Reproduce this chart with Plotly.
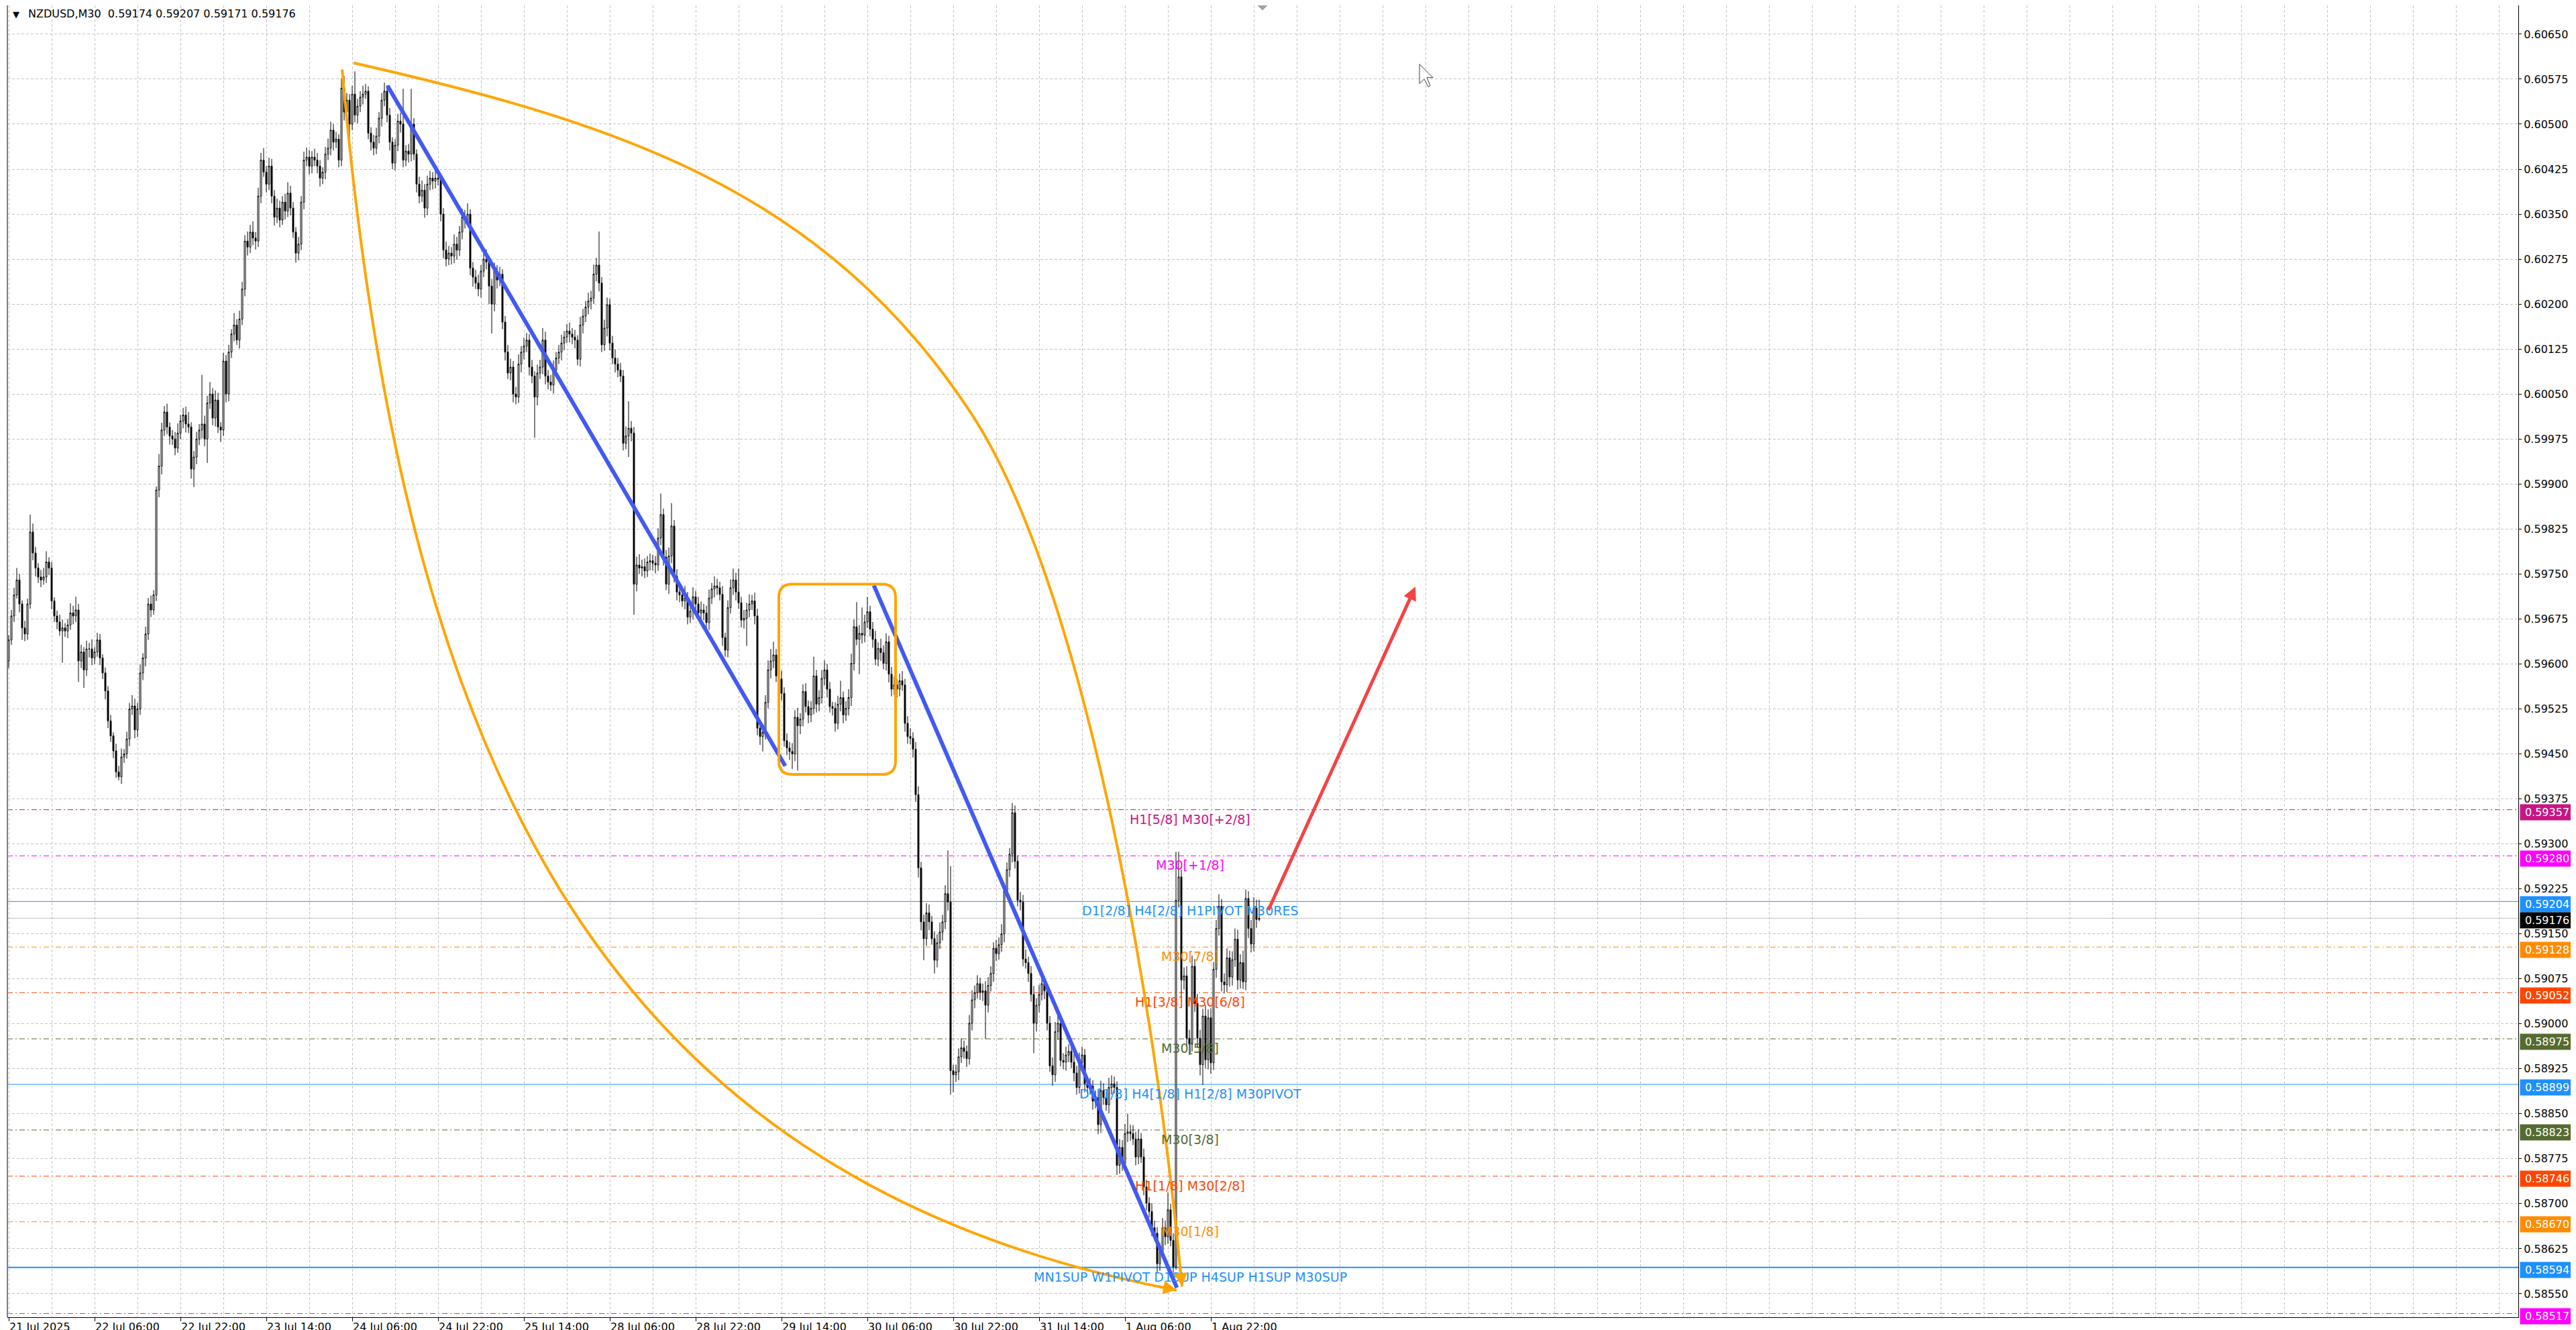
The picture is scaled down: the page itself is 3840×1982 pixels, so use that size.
import plotly.graph_objects as go

# NZDUSD M30, one value per bar, in 1e-5 units (59640 -> 0.59640)
first_open = 59605
closes = [
    59640, 59680, 59715, 59740, 59700, 59660, 59650, 59700, 59820, 59785,
    59760, 59745, 59740, 59745, 59770, 59760, 59705, 59680, 59670, 59655,
    59660, 59655, 59665, 59685, 59680, 59690, 59605, 59620, 59590, 59625,
    59625, 59610, 59620, 59640, 59610, 59585, 59555, 59505, 59480, 59455,
    59420, 59412, 59445, 59450, 59475, 59525, 59530, 59490, 59525, 59585,
    59610, 59650, 59700, 59690, 59715, 59890, 59930, 59990, 60020, 59995,
    59980, 59975, 59960, 59985, 60005, 60015, 60000, 59995, 59925, 59945,
    59975, 59990, 60000, 59975, 60035, 60050, 60010, 60040, 59995, 59990,
    60105, 60050, 60120, 60150, 60165, 60140, 60175, 60225, 60305, 60295,
    60320, 60310, 60305, 60380, 60440, 60420, 60400, 60430, 60380, 60345,
    60360, 60340, 60370, 60355, 60385, 60360, 60320, 60285, 60300, 60370,
    60440, 60445, 60430, 60445, 60440, 60430, 60410, 60420, 60450, 60460,
    60490, 60470, 60475, 60440, 60560, 60520, 60540, 60500, 60550, 60515,
    60530, 60545, 60550, 60555, 60485, 60470, 60460, 60480, 60510, 60540,
    60555, 60515, 60470, 60435, 60465, 60505, 60500, 60440, 60455, 60450,
    60500, 60450, 60400, 60380, 60390, 60360, 60400, 60410, 60405, 60410,
    60408, 60350, 60290, 60275, 60285, 60280, 60300, 60290, 60320, 60345,
    60340, 60350, 60260, 60245, 60235, 60225, 60255, 60275, 60270, 60230,
    60200, 60255, 60240, 60250, 60170, 60120, 60085, 60095, 60050, 60045,
    60100, 60120, 60130, 60140, 60095, 60080, 60045, 60085, 60095, 60140,
    60080, 60070, 60065, 60090, 60110, 60120, 60135, 60145, 60155, 60150,
    60145, 60140, 60108, 60165, 60180, 60195, 60205, 60210, 60250, 60265,
    60235, 60132, 60160, 60199, 60135, 60110, 60100, 60090, 60080, 59968,
    59980, 59993, 59985, 59733, 59765, 59760, 59762, 59755, 59770, 59772,
    59768, 59765, 59810, 59849, 59778, 59733, 59780, 59830, 59746, 59720,
    59715, 59705, 59710, 59678, 59688, 59712, 59700, 59685, 59690, 59685,
    59669, 59710, 59725, 59730, 59727, 59716, 59644, 59623, 59694, 59727,
    59740, 59720, 59702, 59673, 59676, 59690, 59700, 59705, 59680, 59493,
    59479, 59486, 59536, 59590, 59605, 59615, 59580, 59575, 59551, 59472,
    59460, 59454, 59450, 59511, 59497, 59508, 59554, 59529, 59515, 59526,
    59580, 59533, 59544, 59576, 59590, 59558, 59529, 59526, 59501, 59533,
    59544, 59515, 59526, 59544, 59601, 59662, 59641, 59651, 59648, 59670,
    59687, 59658, 59641, 59608, 59626, 59619, 59601, 59637, 59583, 59558,
    59565, 59558, 59572, 59565, 59501, 59479, 59476, 59458, 59382, 59260,
    59170, 59142, 59185, 59170, 59142, 59106, 59135, 59153, 59170, 59217,
    59203, 58922, 58915, 58920, 58945, 58960, 58954, 58942, 59001, 59040,
    59052, 59067, 59052, 59055, 59031, 59064, 59084, 59126, 59117, 59132,
    59150, 59221, 59257, 59283, 59352, 59271, 59206, 59203, 59108, 59102,
    59084, 59049, 59001, 59031, 59049, 59067, 59055, 59001, 58930, 58915,
    58987, 59001, 58939, 58936, 58948, 58954, 58936, 58918, 58894, 58936,
    58948, 58900, 58894, 58896, 58871, 58877, 58832, 58889, 58877, 58865,
    58894, 58900, 58894, 58764, 58794, 58767, 58817, 58820, 58817, 58808,
    58778, 58808, 58778, 58728, 58701, 58687, 58660, 58651, 58600, 58620,
    58660, 58645, 58690, 58639, 58595, 59206, 59245, 59073, 59080, 58976,
    58966, 59096, 59034, 58976, 58932, 59013, 58940, 59010, 58935, 59091,
    59159, 59196, 59070, 59065, 59110, 59078, 59107, 59141, 59073, 59102,
    59070, 59209, 59159, 59133, 59193, 59174, 59176,
]
# wick lengths above / below the body, same units
upper_wick = [
    8, 10, 12, 20, 10, 6, 12, 9, 29, 14,
    10, 8, 12, 15, 18, 8, 10, 6, 9, 12,
    14, 8, 10, 16, 12, 22, 10, 12, 8, 14,
    10, 16, 8, 12, 10, 6, 9, 8, 10, 6,
    12, 10, 14, 8, 12, 10, 18, 12, 10, 14,
    8, 12, 10, 14, 8, 6, 20, 12, 10, 14,
    8, 10, 12, 16, 10, 12, 14, 20, 8, 10,
    12, 10, 82, 14, 12, 20, 10, 16, 12, 8,
    14, 10, 12, 8, 20, 10, 14, 12, 10, 16,
    12, 18, 10, 14, 12, 20, 10, 14, 12, 10,
    16, 12, 10, 14, 18, 12, 10, 8, 12, 10,
    14, 16, 12, 10, 14, 12, 10, 8, 12, 16,
    14, 10, 12, 8, 16, 20, 12, 10, 14, 38,
    12, 10, 14, 12, 8, 10, 12, 14, 10, 12,
    14, 10, 12, 8, 10, 12, 14, 59, 10, 12,
    59, 10, 8, 12, 16, 10, 14, 12, 10, 16,
    12, 8, 10, 14, 12, 10, 16, 12, 10, 14,
    12, 18, 8, 10, 12, 14, 10, 12, 16, 10,
    12, 14, 10, 12, 8, 10, 12, 14, 10, 12,
    16, 10, 14, 12, 10, 12, 8, 14, 12, 20,
    14, 10, 12, 16, 10, 12, 14, 10, 12, 14,
    10, 12, 8, 14, 12, 10, 14, 12, 16, 12,
    56, 10, 14, 12, 10, 12, 14, 10, 12, 10,
    16, 45, 12, 10, 14, 18, 12, 14, 10, 12,
    10, 12, 16, 35, 10, 12, 14, 38, 10, 12,
    12, 14, 20, 10, 12, 16, 10, 12, 14, 10,
    12, 14, 10, 16, 12, 10, 14, 8, 12, 14,
    19, 12, 39, 10, 14, 12, 16, 10, 14, 12,
    10, 14, 12, 16, 20, 22, 10, 12, 14, 10,
    12, 10, 14, 12, 16, 10, 12, 14, 10, 12,
    32, 10, 12, 14, 16, 10, 12, 8, 10, 14,
    28, 10, 12, 14, 16, 12, 41, 14, 43, 12,
    25, 10, 12, 14, 10, 16, 12, 14, 10, 12,
    14, 10, 12, 16, 10, 12, 14, 10, 12, 14,
    10, 12, 16, 14, 10, 12, 14, 16, 12, 14,
    72, 60, 10, 12, 14, 16, 12, 10, 14, 16,
    12, 14, 10, 12, 16, 14, 12, 10, 14, 12,
    16, 14, 12, 10, 16, 12, 10, 14, 12, 16,
    10, 12, 14, 12, 16, 14, 12, 10, 12, 14,
    16, 14, 10, 12, 14, 12, 10, 14, 12, 16,
    14, 10, 12, 14, 10, 12, 14, 16, 12, 10,
    16, 14, 12, 10, 14, 12, 16, 30, 12, 14,
    12, 16, 10, 14, 12, 10, 14, 12, 10, 14,
    16, 12, 29, 10, 12, 81, 42, 12, 14, 16,
    14, 18, 12, 16, 14, 12, 18, 14, 16, 12,
    14, 20, 12, 14, 16, 12, 14, 18, 16, 14,
    20, 15, 12, 14, 18, 14, 31,
]
lower_wick = [
    12, 8, 10, 6, 14, 20, 12, 10, 8, 12,
    14, 10, 12, 8, 10, 12, 14, 10, 12, 8,
    53, 10, 12, 8, 14, 10, 35, 12, 30, 10,
    14, 12, 10, 8, 12, 10, 14, 12, 10, 12,
    10, 6, 12, 10, 8, 12, 10, 14, 12, 10,
    12, 14, 10, 12, 8, 10, 12, 14, 10, 12,
    14, 10, 12, 8, 10, 12, 14, 10, 16, 30,
    12, 10, 14, 12, 40, 10, 12, 14, 10, 20,
    10, 14, 12, 10, 12, 8, 14, 10, 12, 14,
    10, 12, 14, 10, 12, 8, 14, 10, 12, 14,
    10, 12, 8, 14, 10, 12, 10, 16, 12, 10,
    12, 10, 14, 12, 10, 12, 14, 10, 12, 10,
    12, 14, 10, 12, 10, 14, 12, 47, 10, 12,
    14, 10, 12, 8, 10, 14, 12, 10, 12, 14,
    10, 12, 14, 10, 12, 10, 14, 12, 10, 14,
    12, 10, 14, 12, 10, 16, 12, 10, 14, 12,
    10, 12, 14, 12, 10, 14, 12, 16, 10, 12,
    14, 10, 12, 16, 10, 12, 14, 10, 12, 30,
    49, 12, 14, 10, 12, 14, 10, 12, 14, 12,
    10, 14, 12, 10, 14, 12, 68, 14, 10, 12,
    14, 12, 10, 14, 12, 10, 14, 12, 10, 14,
    12, 14, 10, 12, 14, 10, 12, 14, 10, 12,
    14, 12, 10, 14, 12, 10, 14, 12, 10, 12,
    10, 35, 14, 51, 12, 10, 14, 12, 10, 14,
    12, 14, 10, 12, 14, 10, 16, 12, 10, 14,
    12, 10, 14, 12, 10, 14, 12, 10, 14, 12,
    14, 12, 10, 14, 12, 10, 14, 11, 12, 10,
    12, 14, 10, 12, 14, 46, 12, 10, 14, 12,
    14, 25, 12, 10, 14, 12, 10, 14, 12, 10,
    12, 14, 25, 12, 75, 14, 12, 10, 14, 12,
    10, 14, 12, 10, 12, 14, 10, 12, 14, 10,
    12, 14, 10, 12, 14, 12, 10, 58, 14, 12,
    10, 12, 14, 10, 12, 14, 10, 12, 14, 12,
    10, 14, 12, 10, 14, 12, 10, 14, 12, 16,
    14, 36, 12, 14, 10, 22, 12, 10, 14, 12,
    14, 40, 29, 12, 14, 10, 12, 14, 10, 12,
    14, 10, 12, 14, 56, 12, 10, 14, 12, 10,
    12, 14, 10, 12, 14, 12, 10, 14, 12, 10,
    14, 12, 50, 14, 12, 10, 14, 12, 10, 18,
    12, 14, 10, 12, 14, 12, 10, 14, 12, 10,
    12, 14, 10, 12, 14, 12, 16, 14, 12, 10,
    14, 12, 10, 16, 14, 12, 10, 14, 12, 10,
    14, 12, 10, 14, 12, 10, 14, 12, 15, 12,
    10, 14, 12, 10, 10, 5, 12, 29, 16, 14,
    18, 12, 14, 16, 18, 34, 14, 16, 18, 12,
    14, 12, 16, 14, 12, 16, 14, 12, 16, 14,
    12, 14, 16, 14, 12, 14, 3,
]

# time axis labels (bar index -> text), one every 32 bars
tick_bars = [0, 32, 64, 96, 128, 160, 192, 224, 256, 288, 320, 352, 384, 416, 448]
tick_text = ["21 Jul 2025", "22 Jul 06:00", "22 Jul 22:00", "23 Jul 14:00",
             "24 Jul 06:00", "24 Jul 22:00", "25 Jul 14:00", "28 Jul 06:00",
             "28 Jul 22:00", "29 Jul 14:00", "30 Jul 06:00", "30 Jul 22:00",
             "31 Jul 14:00", "1 Aug 06:00", "1 Aug 22:00"]

# murrey / pivot levels drawn as horizontal lines
level_prices = [0.59357, 0.59280, 0.59204, 0.59128, 0.59052, 0.58975,
                0.58899, 0.58823, 0.58746, 0.58670, 0.58594, 0.58517]
level_colors = ["#C71585", "#FF00FF", "#1E90FF", "#FF8C00", "#FF4500", "#556B2F",
                "#1E90FF", "#556B2F", "#FF4500", "#FF8C00", "#1E90FF", "#FF00FF"]
level_text = ["H1[5/8] M30[+2/8]", "M30[+1/8]", "D1[2/8] H4[2/8] H1PIVOT M30RES",
              "M30[7/8]", "H1[3/8] M30[6/8]", "M30[5/8]",
              "D1[1/8] H4[1/8] H1[2/8] M30PIVOT", "M30[3/8]", "H1[1/8] M30[2/8]",
              "M30[1/8]", "MN1SUP W1PIVOT D1SUP H4SUP H1SUP M30SUP", ""]
level_solid = [False, False, True, False, False, False,
               True, False, False, False, True, False]
bid_price = 0.59176

# chart objects: (bar, price) anchor points
trend_lines = [((141.15, 0.60564), (289.4, 0.59430)),
               ((322.4, 0.59731), (435.35, 0.58560))]
box_corners = ((287.0, 0.59416), (330.5, 0.59733))
lower_arc = [(124.25, 0.60591), (146.25, 0.59476), (214.25, 0.58744), (435.25, 0.58556)]
upper_arc = [(128.5, 0.60602), (226.0, 0.60503), (303.5, 0.60393), (358.5, 0.60019),
             (399.75, 0.59739), (426.75, 0.59063), (437.25, 0.58562)]
red_arrow = ((469.25, 0.59188), (524.25, 0.59729))

FONT = "DejaVu Sans"
ORANGE = "#FFA500"
BLUE = "#4259F2"

bars = list(range(len(closes)))
opens = [first_open] + closes[:-1]
highs = [max(o, c) + u for o, c, u in zip(opens, closes, upper_wick)]
lows = [min(o, c) - w for o, c, w in zip(opens, closes, lower_wick)]

fig = go.Figure()
fig.add_trace(go.Candlestick(
    x=bars,
    open=[v / 1e5 for v in opens], high=[v / 1e5 for v in highs],
    low=[v / 1e5 for v in lows], close=[v / 1e5 for v in closes],
    increasing=dict(line=dict(color="black", width=1), fillcolor="white"),
    decreasing=dict(line=dict(color="black", width=1), fillcolor="black"),
    whiskerwidth=0, hoverinfo="skip", showlegend=False,
))

shapes = []
annotations = []

# horizontal levels + price boxes + labels
for price, col, txt, solid in zip(level_prices, level_colors, level_text, level_solid):
    shapes.append(dict(type="line", xref="paper", x0=0, x1=1, y0=price, y1=price,
                       layer="between",
                       line=dict(color=col, width=2 if price == 0.58594 else 1,
                                 dash="solid" if solid else "8px,4px,2px,4px")))
    annotations.append(dict(xref="paper", x=1, xanchor="left", xshift=2, y=price,
                            yref="y", yshift=-4, text="%.5f" % price, showarrow=False,
                            bgcolor=col, width=76, borderpad=2,
                            font=dict(family=FONT, size=16, color="white")))
    if txt:
        annotations.append(dict(x=440.25, y=price, xanchor="center", yanchor="top",
                                yshift=-1, text=txt, showarrow=False,
                                font=dict(family=FONT, size=19, color=col)))

shapes.append(dict(type="line", xref="paper", x0=0, x1=1, y0=bid_price, y1=bid_price,
                   layer="between", line=dict(color="#C0C0C0", width=1)))
annotations.append(dict(xref="paper", x=1, xanchor="left", xshift=2, y=bid_price,
                        yshift=-3, text="%.5f" % bid_price, showarrow=False,
                        bgcolor="black", width=76, borderpad=2,
                        font=dict(family=FONT, size=16, color="white")))

# blue trend lines
for (a, b) in trend_lines:
    shapes.append(dict(type="line", x0=a[0], y0=a[1], x1=b[0], y1=b[1],
                       line=dict(color=BLUE, width=6)))

# rounded orange box
(bx0, by0), (bx1, by1) = box_corners
rx, ry = 5.0, 0.000224
box_path = ("M {a},{t} L {b},{t} Q {x1},{t} {x1},{t2} L {x1},{b2} Q {x1},{y0} {b},{y0} "
            "L {a},{y0} Q {x0},{y0} {x0},{b2} L {x0},{t2} Q {x0},{t} {a},{t} Z").format(
    a=bx0 + rx, b=bx1 - rx, t=by1, t2=by1 - ry, b2=by0 + ry,
    x0=bx0, x1=bx1, y0=by0)
shapes.append(dict(type="path", path=box_path, line=dict(color=ORANGE, width=4)))


def bezier_path(pts):
    p = "M %s,%s" % pts[0]
    for i in range(1, len(pts), 3):
        p += " C %s,%s %s,%s %s,%s" % (pts[i] + pts[i + 1] + pts[i + 2])
    return p


shapes.append(dict(type="path", path=bezier_path(lower_arc), line=dict(color=ORANGE, width=4)))
shapes.append(dict(type="path", path=bezier_path(upper_arc), line=dict(color=ORANGE, width=4)))

# arrow heads of the two arcs
annotations.append(dict(x=lower_arc[-1][0], y=lower_arc[-1][1], ax=-30, ay=-6,
                        showarrow=True, arrowhead=2, arrowsize=1, arrowwidth=4,
                        arrowcolor=ORANGE, text=""))
annotations.append(dict(x=upper_arc[-1][0], y=upper_arc[-1][1], ax=-3, ay=-30,
                        showarrow=True, arrowhead=2, arrowsize=1, arrowwidth=4,
                        arrowcolor=ORANGE, text=""))

# red projection arrow
annotations.append(dict(x=red_arrow[1][0], y=red_arrow[1][1], ax=red_arrow[0][0],
                        ay=red_arrow[0][1], axref="x", ayref="y", showarrow=True,
                        arrowhead=2, arrowsize=0.8, arrowwidth=5, arrowcolor="#F24444",
                        text=""))

# header
annotations.append(dict(xref="paper", yref="paper", x=0, y=1, xanchor="left", yanchor="top",
                        xshift=6, yshift=-4, text="\u25bc", showarrow=False,
                        font=dict(family=FONT, size=13, color="black")))
annotations.append(dict(xref="paper", yref="paper", x=0, y=1, xanchor="left", yanchor="top",
                        xshift=29, yshift=-1,
                        text="NZDUSD,M30\u00a0\u00a00.59174 0.59207 0.59171 0.59176",
                        showarrow=False, font=dict(family=FONT, size=16, color="black")))

# left window border
shapes.append(dict(type="line", xref="paper", yref="paper", x0=0, x1=0, y0=0, y1=1,
                   line=dict(color="#808080", width=2)))
# chart shift marker at the top
shapes.append(dict(type="path", xsizemode="pixel", ysizemode="pixel", xanchor=467.25,
                   yanchor=0.60698, path="M -7,0 L 7,0 L 0,-7 Z",
                   fillcolor="#A0A0A0", line=dict(color="#A0A0A0", width=1)))
# mouse pointer
shapes.append(dict(type="path", xsizemode="pixel", ysizemode="pixel", xanchor=525.75,
                   yanchor=0.60600,
                   path="M 0,0 L 0,-29 L 7,-22 L 13,-34 L 16,-32 L 11,-20 L 20,-20 Z",
                   fillcolor="white", line=dict(color="#404040", width=1)))

GRID = "#C4C4C4"
fig.update_layout(
    width=3840, height=1982,
    margin=dict(l=3, r=94, t=0, b=27),
    paper_bgcolor="white", plot_bgcolor="white",
    showlegend=False,
    shapes=shapes, annotations=annotations,
    font=dict(family=FONT, size=16, color="black"),
    xaxis=dict(
        range=[-0.5, 935.25], rangeslider=dict(visible=False),
        tickmode="array", tickvals=tick_bars, ticktext=tick_text,
        ticks="outside", ticklen=5, tickcolor="black",
        ticklabelposition="outside right",
        tickfont=dict(family=FONT, size=16, color="black"),
        showgrid=True, gridcolor=GRID, griddash="4px,3px", gridwidth=1,
        minor=dict(tick0=0, dtick=16, showgrid=True, gridcolor=GRID,
                   griddash="4px,3px", gridwidth=1, ticks=""),
        showline=True, linecolor="black", linewidth=1, zeroline=False,
    ),
    yaxis=dict(
        side="right", range=[0.585108, 0.60698],
        tick0=0.5855, dtick=0.00075, tickformat=".5f",
        ticks="outside", ticklen=4, tickcolor="black",
        tickfont=dict(family=FONT, size=16, color="black"),
        showgrid=True, gridcolor=GRID, griddash="4px,3px", gridwidth=1,
        showline=True, linecolor="black", linewidth=1, zeroline=False,
    ),
)

fig.write_html("out.html")
